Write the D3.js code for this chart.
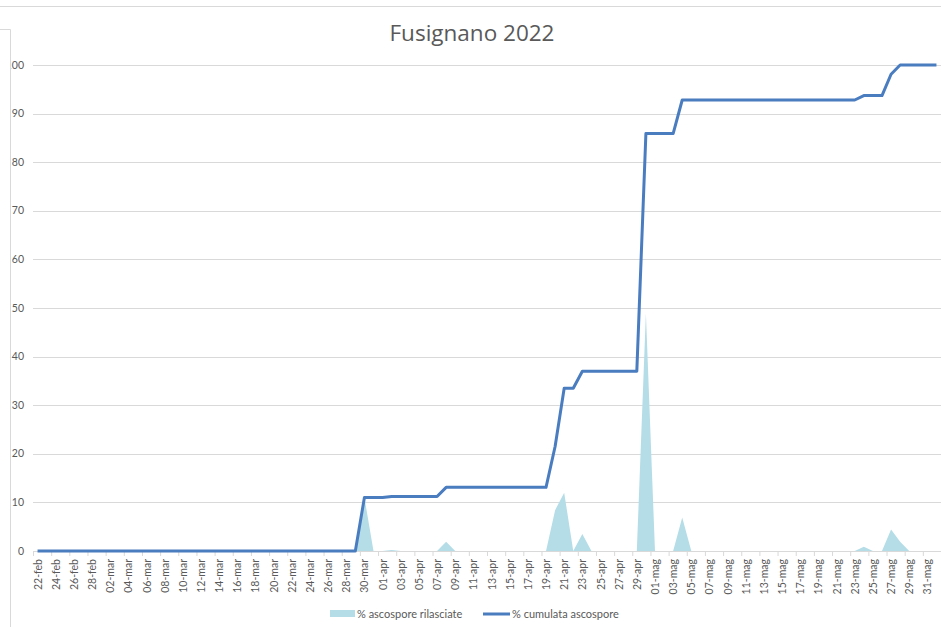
<!DOCTYPE html>
<html>
<head>
<meta charset="utf-8">
<script src="https://cdn.jsdelivr.net/npm/d3@7"></script>
<style>
  html, body { margin: 0; padding: 0; background: #fff; }
  svg { display: block; font-family: Lato, "Open Sans", "Liberation Sans", sans-serif; }
</style>
</head>
<body>
<svg id="chart" width="941" height="627"></svg>
<script>
// Daily categories: 22 Feb 2022 to 1 Jun 2022
const startDate = new Date(2022, 1, 22);
const endDate = new Date(2022, 5, 2); // exclusive
const monthLabels = ["gen", "feb", "mar", "apr", "mag", "giu", "lug", "ago", "set", "ott", "nov", "dic"];
const yTicks = [0, 10, 20, 30, 40, 50, 60, 70, 80, 90, 100];

// % ascospore rilasciate (daily release), by month
const releaseFeb = [0, 0, 0, 0, 0, 0, 0];
const releaseMar = [0, 0, 0, 0, 0, 0, 0, 0, 0, 0, 0, 0, 0, 0, 0, 0, 0, 0, 0, 0,
                    0, 0, 0, 0, 0, 0, 0, 0, 0, 11.0, 0];
const releaseApr = [0, 0.2, 0, 0, 0, 0, 0, 1.9, 0, 0, 0, 0, 0, 0, 0, 0, 0, 0, 0, 8.4,
                    12.0, 0, 3.5, 0, 0, 0, 0, 0, 0, 48.9];
const releaseMag = [0, 0, 0, 6.9, 0, 0, 0, 0, 0, 0, 0, 0, 0, 0, 0, 0, 0, 0, 0, 0,
                    0, 0, 0, 0.9, 0, 0, 4.4, 1.9, 0, 0, 0];
const releaseGiu = [0];

// % cumulata ascospore, by month
const cumulFeb = [0, 0, 0, 0, 0, 0, 0];
const cumulMar = [0, 0, 0, 0, 0, 0, 0, 0, 0, 0, 0, 0, 0, 0, 0, 0, 0, 0, 0, 0,
                  0, 0, 0, 0, 0, 0, 0, 0, 0, 11.0, 11.0];
const cumulApr = [11.0, 11.2, 11.2, 11.2, 11.2, 11.2, 11.2, 13.1, 13.1, 13.1, 13.1, 13.1, 13.1, 13.1, 13.1, 13.1, 13.1, 13.1, 13.1, 21.5,
                  33.5, 33.5, 37.0, 37.0, 37.0, 37.0, 37.0, 37.0, 37.0, 85.9];
const cumulMag = [85.9, 85.9, 85.9, 92.8, 92.8, 92.8, 92.8, 92.8, 92.8, 92.8, 92.8, 92.8, 92.8, 92.8, 92.8, 92.8, 92.8, 92.8, 92.8, 92.8,
                  92.8, 92.8, 92.8, 93.7, 93.7, 93.7, 98.1, 100, 100, 100, 100];
const cumulGiu = [100];

const days = d3.timeDay.range(startDate, endDate);
const release = [...releaseFeb, ...releaseMar, ...releaseApr, ...releaseMag, ...releaseGiu];
const cumul = [...cumulFeb, ...cumulMar, ...cumulApr, ...cumulMag, ...cumulGiu];
const fmtDay = d => String(d.getDate()).padStart(2, "0") + "-" + monthLabels[d.getMonth()];

const svg = d3.select("#chart");
const textColor = "#595959";
const gridColor = "#d9d9d9";

// Frame pieces around the chart object
svg.append("line").attr("x1", 0).attr("x2", 941).attr("y1", 6.5).attr("y2", 6.5)
  .attr("stroke", gridColor).attr("stroke-width", 1);
svg.append("path").attr("d", "M0,29.5H10.5V627")
  .attr("fill", "none").attr("stroke", gridColor).attr("stroke-width", 1);

const x = d3.scaleBand().domain(d3.range(days.length)).range([33, 941]).padding(0);
const cx = i => x(i) + x.bandwidth() / 2;
const y = d3.scaleLinear().domain([0, 100]).range([551, 65]);

// Horizontal gridlines
svg.append("g").selectAll("line").data(yTicks.filter(t => t > 0)).join("line")
  .attr("x1", 33).attr("x2", 941)
  .attr("y1", d => Math.round(y(d)) + 0.5).attr("y2", d => Math.round(y(d)) + 0.5)
  .attr("stroke", gridColor).attr("stroke-width", 1);

// Y tick labels (clipped by the frame edge)
svg.append("clipPath").attr("id", "yclip").append("rect")
  .attr("x", 11).attr("y", 0).attr("width", 100).attr("height", 627);
svg.append("g").attr("clip-path", "url(#yclip)")
  .selectAll("text").data(yTicks).join("text")
  .attr("x", 24).attr("y", d => y(d)).attr("dy", "0.35em")
  .attr("text-anchor", "end").attr("font-size", 10.5).attr("fill", textColor)
  .text(d => d);

// Area: daily release
const area = d3.area().x((d, i) => cx(i)).y0(y(0)).y1(d => y(d));
svg.append("path").datum(release).attr("d", area).attr("fill", "#b4dde7");

// Category axis line and tick marks (every 2 days)
const xAxis = d3.axisBottom(x)
  .tickValues(d3.range(0, days.length + 1, 2).filter(i => i < days.length))
  .tickSize(5).tickFormat("");
const gx = svg.append("g").attr("transform", "translate(0,551)").call(xAxis);
gx.select(".domain").attr("stroke", gridColor).attr("d", "M33,0.5H941");
gx.selectAll(".tick").attr("transform", d => `translate(${x(d)},0)`);
gx.selectAll(".tick line").attr("stroke", gridColor).attr("x1", 0.5).attr("x2", 0.5);
gx.selectAll(".tick text").remove();

// Rotated date labels
svg.append("g").selectAll("text")
  .data(d3.range(0, days.length, 2).filter(i => i < days.length - 1))
  .join("text")
  .attr("transform", i => `translate(${cx(i) + 4},559) rotate(-90)`)
  .attr("text-anchor", "end").attr("font-size", 10.5).attr("fill", textColor)
  .text(i => fmtDay(days[i]));

// Line: cumulative
const line = d3.line().x((d, i) => cx(i)).y(d => y(d));
svg.append("path").datum(cumul).attr("d", line)
  .attr("fill", "none").attr("stroke", "#4a7cc0").attr("stroke-width", 3)
  .attr("stroke-linejoin", "round").attr("stroke-linecap", "butt");

// Title
svg.append("text").attr("x", 472).attr("y", 41).attr("text-anchor", "middle")
  .attr("font-family", "'Open Sans', Lato, sans-serif")
  .attr("font-size", 22.5).attr("fill", textColor).text("Fusignano 2022");

// Legend
const lg = svg.append("g").attr("font-size", 11).attr("fill", textColor);
lg.append("rect").attr("x", 330).attr("y", 610).attr("width", 25).attr("height", 7).attr("fill", "#b4dde7");
lg.append("text").attr("x", 357).attr("y", 614).attr("dy", "0.35em").text("% ascospore rilasciate");
lg.append("line").attr("x1", 483).attr("x2", 510).attr("y1", 614).attr("y2", 614)
  .attr("stroke", "#4a7cc0").attr("stroke-width", 3);
lg.append("text").attr("x", 512).attr("y", 614).attr("dy", "0.35em").text("% cumulata ascospore");
</script>
</body>
</html>
